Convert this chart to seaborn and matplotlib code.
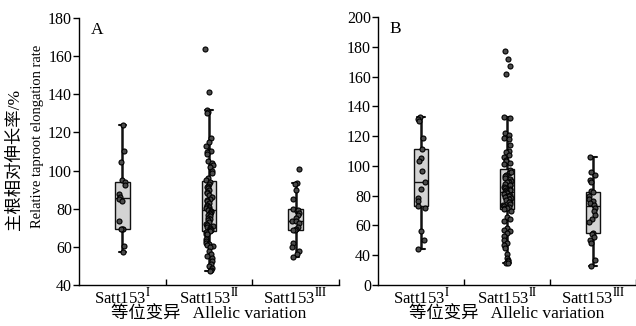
import numpy as np
import pandas as pd
import seaborn as sns
import matplotlib.pyplot as plt

# ---------------- data ----------------
alleles = ["Satt153 I", "Satt153 II", "Satt153 III"]
allele_labels = [r"Satt153$^{\mathrm{I}}$", r"Satt153$^{\mathrm{II}}$", r"Satt153$^{\mathrm{III}}$"]

# Panel A
a_I = [124, 110, 104.5, 95, 94, 92.5, 87.5, 86, 85, 84, 73.5, 69.5, 69.5, 69.5, 60.5, 57.5]
a_II = [163.5, 141,
        131.5, 130.5, 130, 117, 115, 113, 110.5, 110, 109.5, 108.5, 105, 104, 103, 102, 100, 98.5, 96, 95,
        94, 93, 92, 91.5, 91, 90, 89, 88, 87, 86, 85, 84.5, 84, 83, 82, 81.5, 81, 80.5, 80, 79.5,
        79, 78.5, 78, 77, 76.5, 76, 75, 74.5, 74, 73, 72, 71.5, 71, 70.5, 70, 69.5, 69, 68.5,
        68.2, 68, 67, 66.5, 64, 63, 62, 61.5, 61, 60.5, 60, 58, 56, 55, 54, 52.5, 51, 50, 49, 48, 47.5]
a_III = [101, 93.5, 93, 90, 85, 80, 79, 79.5, 78, 76.5, 75, 73.5, 73.5, 72.5, 70.5, 69.5, 69, 69,
         62, 60, 58, 56, 54.5]

# Panel B
b_I = [133, 131.5, 130, 118.5, 111.5, 105.5, 103.5, 96.5, 89.5, 84.5, 78.5, 76.5, 73, 72, 56, 50.5, 44]
b_II = [177, 171.5, 167, 162,
        133, 132.5, 122, 121, 119, 118, 114, 110, 109, 107.5, 106, 104, 103, 102, 101, 97, 95.5, 96,
        94, 93, 92, 91, 90, 89.5, 89, 88, 87.5, 87, 86, 85, 84.5, 84, 83.5, 83,
        82.5, 82, 81, 80.5, 80, 79.5, 79, 78.5, 78, 77, 76, 75.5, 74.5, 74, 73, 72.5, 72, 71.5, 71,
        70, 66, 64, 63, 58, 57, 56, 55, 53, 50, 48, 47, 45, 41, 38, 37, 36, 35, 35]
b_III = [106, 96, 94, 90.5, 89, 83, 82.5, 80, 78, 76.5, 75, 73.5, 72, 70, 67, 64, 62,
         55, 54, 52, 50, 48, 37, 32.5]

a_yticks = [40, 60, 80, 100, 120, 140, 160, 180]
a_yticklabels = ["40", "60", "80", "100", "120", "140", "160", "180"]
b_yticks = [20, 40, 60, 80, 100, 120, 140, 160, 180, 200]
b_yticklabels = ["0", "40", "60", "80", "100", "120", "140", "160", "180", "200"]

panel_letters = ["A", "B"]
ylabel_cn = "主根相对伸长率/%"
ylabel_en = "Relative taproot elongation rate"
xlabel_text = "等位变异   Allelic variation"


def long_df(groups):
    rows = []
    for name, vals in zip(alleles, groups):
        for v in vals:
            rows.append((name, v))
    return pd.DataFrame(rows, columns=["allele", "value"])


dfA = long_df([a_I, a_II, a_III])
dfB = long_df([b_I, b_II, b_III])

# ---------------- style ----------------
sns.set_theme(style="ticks")
plt.rcParams["font.family"] = ["Liberation Serif", "Noto Sans CJK SC"]
plt.rcParams["mathtext.fontset"] = "stix"
plt.rcParams["axes.linewidth"] = 1.0

W, H = 636, 326
fig = plt.figure(figsize=(W / 100, H / 100), dpi=100)
axA = fig.add_axes([79 / W, 41 / H, 260 / W, 267 / H])
axB = fig.add_axes([378 / W, 41 / H, 258 / W, 268 / H])

np.random.seed(3)


def draw(ax, df, ylim, yticks, yticklabels, letter):
    sns.boxplot(data=df, x="allele", y="value", order=alleles, ax=ax,
                width=0.17, color="#d3d3d3", saturation=1, linecolor="#111111",
                linewidth=1.0, showfliers=False, whis=1.5,
                whiskerprops={"linewidth": 1.8}, capprops={"linewidth": 1.5},
                medianprops={"linewidth": 1.0})
    sns.stripplot(data=df, x="allele", y="value", order=alleles, ax=ax,
                  jitter=0.045, size=3.6, color="#4a4a4a", edgecolor="black",
                  linewidth=0.8, zorder=5)
    ax.set_xlim(-0.5, 2.5)
    ax.set_ylim(*ylim)
    ax.set_yticks(yticks)
    ax.set_yticklabels(yticklabels)
    ax.set_xticks(range(len(alleles)))
    ax.set_xticklabels(allele_labels, fontsize=12)
    ax.set_xticks([0.5, 1.5, 2.5], minor=True)
    ax.tick_params(axis="x", which="major", length=0, pad=1.5)
    ax.tick_params(axis="x", which="minor", direction="in", length=4, width=1, color="black")
    ax.tick_params(axis="y", direction="out", length=4, width=1, pad=1, labelsize=11.5, color="black")
    for lab in ax.get_yticklabels():
        lab.set_color("black")
    for lab in ax.get_xticklabels():
        lab.set_color("black")
    ax.set_xlabel(xlabel_text, fontsize=12.5, color="black", va="bottom")
    ax.xaxis.set_label_coords(0.5, -(323 - 285) / 267)
    ax.set_ylabel("")
    ax.spines["top"].set_visible(False)
    ax.spines["right"].set_visible(False)
    ax.spines["left"].set_color("black")
    ax.spines["bottom"].set_color("black")
    ax.text(0.045, 0.985, letter, transform=ax.transAxes, fontsize=12.5,
            ha="left", va="top", color="black")


draw(axA, dfA, (40, 180), a_yticks, a_yticklabels, panel_letters[0])
draw(axB, dfB, (20, 200), b_yticks, b_yticklabels, panel_letters[1])

fig.text(15 / W, 1 - 230 / H, ylabel_cn, rotation=90, ha="center", va="bottom",
         fontsize=12.5, color="black")
fig.text(38 / W, 1 - 228 / H, ylabel_en, rotation=90, ha="center", va="bottom",
         fontsize=10.5, color="black")

fig.savefig("out.png", dpi=100, facecolor="white")
